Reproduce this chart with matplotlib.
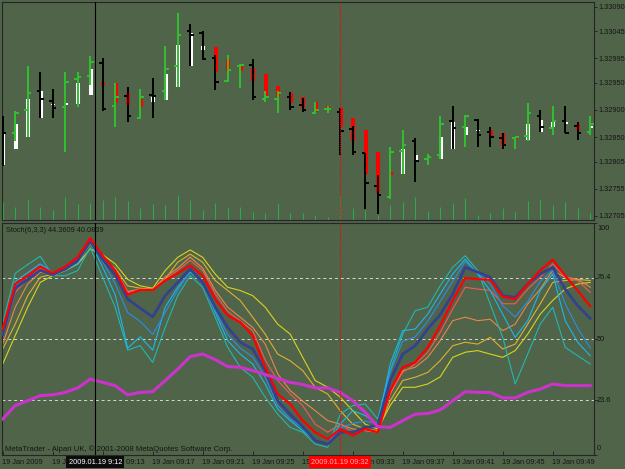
import matplotlib
matplotlib.use("Agg")
import matplotlib.pyplot as plt
import numpy as np

plt.rcParams["font.family"] = ["Liberation Sans", "DejaVu Sans"]

BG = "#506449"
FS = 5.3

# price bars (19 Jan 2009, 09:05 .. 09:52, one minute each)
opens = [1.32882, 1.32858, 1.32900, 1.32934, 1.32916, 1.32905, 1.32957, 1.32963,
         1.32987, 1.32907, 1.32926, 1.32885, 1.32928, 1.32935, 1.32980, 1.33046,
         1.33041, 1.32995, 1.32953, 1.32980, 1.32983, 1.32921, 1.32921, 1.32924,
         1.32909, 1.32894, 1.32901, 1.32897, 1.32865, 1.32821, 1.32760, 1.32739,
         1.32825, 1.32842, 1.32809, 1.32817, 1.32880, 1.32868, 1.32882, 1.32860,
         1.32849, 1.32848, 1.32852, 1.32888, 1.32866, 1.32880, 1.32871, 1.32860]
highs = [1.32888, 1.32898, 1.32980, 1.32969, 1.32939, 1.32969, 1.32969, 1.32999,
         1.32995, 1.32949, 1.32942, 1.32938, 1.32958, 1.33018, 1.33078, 1.33058,
         1.33046, 1.33001, 1.33001, 1.32985, 1.32993, 1.32934, 1.32934, 1.32933,
         1.32922, 1.32915, 1.32907, 1.32903, 1.32870, 1.32821, 1.32780, 1.32832,
         1.32864, 1.32848, 1.32819, 1.32888, 1.32907, 1.32891, 1.32883, 1.32868,
         1.32857, 1.32850, 1.32912, 1.32900, 1.32907, 1.32907, 1.32878, 1.32888]
lows = [1.32797, 1.32842, 1.32851, 1.32885, 1.32885, 1.32822, 1.32906, 1.32946,
        1.32898, 1.32869, 1.32878, 1.32883, 1.32885, 1.32918, 1.32943, 1.32980,
        1.32992, 1.32937, 1.32952, 1.32940, 1.32918, 1.32915, 1.32895, 1.32900,
        1.32896, 1.32893, 1.32894, 1.32817, 1.32817, 1.32717, 1.32708, 1.32737,
        1.32783, 1.32768, 1.32799, 1.32809, 1.32829, 1.32832, 1.32832, 1.32832,
        1.32828, 1.32828, 1.32842, 1.32860, 1.32854, 1.32857, 1.32845, 1.32854]
closes = [1.32857, 1.32894, 1.32931, 1.32920, 1.32904, 1.32952, 1.32960, 1.32989,
          1.32901, 1.32923, 1.32889, 1.32923, 1.32926, 1.32975, 1.33038, 1.33038,
          1.32993, 1.32952, 1.32974, 1.32982, 1.32923, 1.32924, 1.32931, 1.32905,
          1.32899, 1.32900, 1.32902, 1.32861, 1.32823, 1.32766, 1.32744, 1.32823,
          1.32835, 1.32806, 1.32814, 1.32874, 1.32866, 1.32888, 1.32854, 1.32851,
          1.32835, 1.32850, 1.32894, 1.32868, 1.32880, 1.32858, 1.32858, 1.32875]

# overlay candle bodies
body_hi = [1.32857, 1.32874, 1.32921, 1.32935, 1.32911, 1.32912, 1.32949, 1.32975,
           1.32952, 1.32949, 1.32931, 1.32920, 1.32924, 1.32966, 1.33020, 1.33041,
           1.33018, 1.33015, 1.32993, 1.32983, 1.32978, 1.32966, 1.32944, 1.32932,
           1.32923, 1.32915, 1.32908, 1.32903, 1.32886, 1.32864, 1.32823, 1.32785,
           1.32829, 1.32817, 1.32812, 1.32850, 1.32878, 1.32869, 1.32863, 1.32863,
           1.32857, 1.32850, 1.32875, 1.32882, 1.32877, 1.32877, 1.32875, 1.32871]
body_lo = [1.32799, 1.32828, 1.32850, 1.32885, 1.32909, 1.32909, 1.32911, 1.32928,
           1.32946, 1.32912, 1.32909, 1.32906, 1.32914, 1.32918, 1.32942, 1.32980,
           1.33010, 1.32970, 1.32972, 1.32972, 1.32953, 1.32923, 1.32923, 1.32912,
           1.32903, 1.32897, 1.32900, 1.32869, 1.32843, 1.32782, 1.32748, 1.32780,
           1.32782, 1.32805, 1.32812, 1.32809, 1.32829, 1.32853, 1.32861, 1.32851,
           1.32834, 1.32846, 1.32845, 1.32859, 1.32869, 1.32874, 1.32863, 1.32867]
body_white = [1, 1, 1, 1, 1, 1, 1, 1, 0, 0, 0, 0, 1, 1, 1, 1,
              1, 0, 0, 0, 0, 0, 0, 0, 0, 0, 0, 0, 0, 0, 0, 0,
              1, 1, 1, 1, 1, 1, 1, 0, 0, 0, 1, 1, 1, 1, 0, 1]

volumes = [55, 40, 62, 40, 30, 70, 48, 50, 60, 70, 57, 35, 48, 45, 75, 60,
           30, 50, 40, 40, 25, 20, 50, 20, 20, 15, 10, 75, 35, 30, 15, 45,
           55, 68, 28, 40, 52, 65, 15, 20, 35, 25, 57, 62, 45, 55, 35, 20]

price_ticks = [1.33090, 1.33045, 1.32995, 1.32950, 1.32900, 1.32850, 1.32805, 1.32755, 1.32705]

# stochastic rainbow lines
stoch_red = [54.3, 73.7, 77.3, 81.2, 78.4, 81.2, 85.2, 93.5, 85.9, 79.5, 69.1, 71.2,
             71.1, 75.2, 78.3, 81.6, 77.3, 67.2, 60.1, 57.2, 51.5, 37.8, 26.3, 22.0,
             14.8, 9.8, 6.9, 11.2, 8.4, 11.2, 9.8, 27.8, 37.8, 39.9, 46.4, 55.7,
             66.6, 76.3, 75.8, 75.5, 68.2, 67.2, 73.7, 79.5, 84.2, 77.3, 70.9, 64.1]
stoch_navy = [51.9, 72.0, 75.7, 79.6, 77.7, 80.1, 83.9, 92.0, 84.3, 77.7, 67.2, 63.3,
              59.5, 68.7, 74.4, 80.1, 74.4, 63.7, 55.0, 48.6, 45.7, 36.4, 23.4, 17.6,
              12.2, 6.2, 4.7, 9.8, 9.8, 11.9, 12.7, 32.1, 43.5, 47.1, 54.3, 60.5,
              69.4, 80.9, 78.8, 76.6, 68.7, 68.0, 73.7, 78.0, 80.9, 71.5, 64.4, 58.9]
stoch_magenta = [15.5, 21.3, 23.4, 25.6, 25.9, 27.0, 28.9, 32.7, 31.3, 29.9, 25.9, 27.0,
                 27.3, 32.1, 37.0, 42.4, 43.5, 41.1, 38.1, 37.8, 36.4, 34.7, 33.0, 31.3,
                 30.4, 28.9, 28.9, 27.0, 23.4, 18.4, 12.2, 11.9, 14.8, 17.6, 17.9, 19.4,
                 23.4, 27.3, 27.0, 27.0, 24.6, 24.6, 27.0, 28.4, 30.6, 29.9, 29.9, 29.9]
stoch_y1 = [39.2, 51.5, 63.7, 74.4, 77.3, 79.5, 82.3, 88.8, 86.3, 82.4, 75.7, 72.9,
            71.9, 79.5, 85.2, 88.4, 85.2, 78.0, 72.3, 70.9, 68.7, 63.7, 56.4, 52.1,
            42.1, 32.1, 29.2, 24.9, 19.1, 13.3, 11.2, 21.3, 29.2, 29.2, 30.6, 33.7,
            42.1, 44.3, 45.0, 43.5, 42.1, 45.0, 52.1, 60.7, 66.6, 71.5, 73.7, 74.4]
stoch_y2 = [45.7, 56.4, 68.7, 76.6, 78.0, 80.1, 83.8, 91.0, 84.3, 80.5, 72.9, 71.9,
            71.4, 75.8, 83.1, 86.6, 83.1, 75.2, 70.9, 66.6, 59.4, 52.1, 43.5, 40.6,
            36.4, 29.2, 26.3, 19.1, 13.3, 11.2, 10.5, 23.4, 32.1, 33.5, 35.6, 40.7,
            47.1, 48.6, 47.8, 50.7, 45.7, 47.8, 56.4, 65.1, 74.4, 75.2, 75.7, 75.2]
stoch_o2 = [47.8, 63.7, 73.7, 78.8, 78.0, 80.5, 84.2, 92.0, 85.3, 79.6, 70.5, 71.4,
            71.4, 76.7, 80.5, 85.3, 80.5, 71.0, 63.7, 59.4, 55.0, 47.8, 35.0, 27.8,
            23.2, 19.1, 14.8, 13.3, 11.2, 10.5, 9.8, 26.3, 36.4, 37.8, 42.1, 49.3,
            57.9, 59.4, 57.9, 58.5, 53.6, 56.4, 65.1, 71.5, 79.5, 76.6, 75.8, 72.3]
stoch_o1 = [50.7, 70.1, 75.8, 80.5, 78.4, 80.9, 84.8, 93.0, 85.6, 79.6, 70.0, 71.3,
            71.0, 75.7, 79.6, 83.9, 79.5, 69.5, 61.9, 57.8, 53.6, 41.0, 32.1, 26.3,
            21.3, 13.3, 9.8, 13.3, 9.8, 11.2, 9.8, 27.0, 35.6, 39.2, 44.2, 52.8,
            62.9, 72.3, 71.5, 71.0, 65.2, 65.2, 71.5, 76.6, 82.4, 76.6, 75.2, 70.1]
stoch_c1 = [56.6, 78.3, 82.1, 85.7, 77.3, 77.3, 79.5, 89.5, 76.6, 63.7, 45.2, 47.1,
            39.9, 55.0, 68.7, 77.3, 72.3, 59.4, 46.4, 37.8, 33.5, 24.9, 17.6, 11.9,
            9.8, 4.7, 3.3, 17.6, 21.3, 22.0, 15.5, 36.4, 52.1, 62.2, 63.7, 73.0,
            80.9, 85.9, 79.5, 65.1, 50.7, 30.6, 43.5, 56.4, 63.7, 46.4, 42.8, 39.2]
stoch_c2 = [54.7, 74.8, 78.6, 82.4, 78.6, 79.6, 82.4, 91.7, 80.9, 69.1, 46.1, 50.9,
            45.2, 63.7, 72.3, 78.8, 74.4, 61.5, 49.3, 43.5, 39.2, 30.6, 19.8, 14.8,
            10.5, 6.2, 4.7, 13.3, 19.1, 17.0, 13.3, 39.2, 53.6, 54.3, 60.7, 69.4,
            78.0, 84.4, 78.0, 70.9, 60.7, 50.7, 57.9, 70.9, 78.0, 57.9, 48.6, 42.8]
stoch_c3 = [53.8, 72.9, 77.7, 81.5, 78.6, 80.5, 84.3, 92.5, 83.4, 73.8, 61.4, 57.6,
            51.9, 61.4, 71.0, 79.6, 73.8, 62.4, 51.9, 46.1, 42.3, 33.7, 21.3, 15.5,
            11.7, 6.0, 5.0, 11.7, 13.6, 14.6, 13.6, 35.6, 49.0, 50.9, 57.6, 66.2,
            74.8, 83.4, 78.6, 73.8, 64.3, 59.5, 66.2, 74.8, 79.6, 65.2, 54.7, 46.1]

levels = [76.4, 50, 23.6]
level_labels = ["100", "76.4", "50", "23.6", "0"]
level_values = [100, 76.4, 50, 23.6, 0]

time_labels = ["19 Jan 2009", "19 Jan 09:09", "19 Jan 09:13", "19 Jan 09:17",
               "19 Jan 09:21", "19 Jan 09:25", "19 Jan 09:29", "19 Jan 09:33",
               "19 Jan 09:37", "19 Jan 09:41", "19 Jan 09:45", "19 Jan 09:49"]
time_ticks = [0, 4, 8, 12, 16, 20, 24, 28, 32, 36, 40, 44]

x = np.arange(len(opens))
XLIM = (-0.056, 47.304)

fig = plt.figure(figsize=(6.25, 4.69), dpi=100, facecolor=BG)
ax = fig.add_axes([2 / 625, 1 - 220 / 469, 592 / 625, 218 / 469], facecolor=BG)
ax2 = fig.add_axes([2 / 625, 1 - 455 / 469, 592 / 625, 232 / 469], facecolor=BG)

for a in (ax, ax2):
    a.set_xlim(*XLIM)
    for s in a.spines.values():
        s.set_color("#262626")
        s.set_linewidth(0.8)

# volumes on their own scale at the bottom of the price window
axv = ax.twinx()
axv.set_ylim(0, 654)
axv.vlines(x, 0, volumes, color="#2fa84f", lw=0.8)
axv.set_yticks([])
axv.set_zorder(0)
ax.set_zorder(1)
ax.patch.set_visible(False)
axv.patch.set_facecolor(BG)
for s in axv.spines.values():
    s.set_visible(False)

# candle bodies
bw = np.array(body_white, dtype=bool)
bhi = np.array(body_hi)
blo = np.array(body_lo)
has = bhi > blo
ax.vlines(x[bw & has] + 0.04, blo[bw & has], bhi[bw & has], color="white", lw=2.9, zorder=2)
ax.vlines(x[~bw & has] + 0.04, blo[~bw & has], bhi[~bw & has], color="#ff0000", lw=2.9, zorder=2)

# OHLC bars
o = np.array(opens)
c = np.array(closes)
up = c > o
for mask, col in ((up, "#30c030"), (~up, "black")):
    ax.vlines(x[mask], np.array(lows)[mask], np.array(highs)[mask], color=col, lw=1.4, zorder=3)
    ax.hlines(o[mask], x[mask] - 0.27, x[mask], color=col, lw=1.4, zorder=3)
    ax.hlines(c[mask], x[mask], x[mask] + 0.27, color=col, lw=1.4, zorder=3)

ax.set_ylim(1.326975, 1.330986)
ax.yaxis.tick_right()
ax.set_yticks(price_ticks)
ax.set_yticklabels([f"{p:.5f}" for p in price_ticks])
ax.tick_params(axis="y", direction="out", length=2, width=0.7, color="#262626",
               labelsize=FS, labelcolor="#151515", pad=1)
ax.set_xticks([])

# stochastic window
thin = [(stoch_y1, "#d8d41e"), (stoch_y2, "#e0b030"), (stoch_o2, "#e8884a"),
        (stoch_o1, "#f55a50"), (stoch_c1, "#22b8b0"), (stoch_c2, "#19b8f0"),
        (stoch_c3, "#2a8ee8")]
for vals, col in thin:
    ax2.plot(x, vals, color=col, lw=0.8, zorder=2)
ax2.plot(x, stoch_navy, color="#33428e", lw=2.0, zorder=3)
ax2.plot(x, stoch_red, color="#ff0000", lw=1.6, zorder=4)
ax2.plot(x, stoch_magenta, color="#cc33cc", lw=2.2, zorder=4)
for lv in levels:
    ax2.axhline(lv, color="#d8d8d8", lw=0.7, ls=(0, (3, 3)), zorder=1)

ax2.set_ylim(0, 100)
ax2.yaxis.tick_right()
ax2.set_yticks(level_values)
ax2.set_yticklabels([])
ax2.tick_params(axis="y", direction="out", length=2, width=0.7, color="#262626")
for lbl, v in zip(level_labels, level_values):
    va = "top" if v == 100 else ("bottom" if v == 0 else "center")
    off = -2 if v == 100 else (3 if v == 0 else 0)
    ax2.annotate(lbl, (1, v), xycoords=("axes fraction", "data"), xytext=(3, off),
                 textcoords="offset pixels", ha="left", va=va, fontsize=FS, color="#151515")

ax2.set_xticks(time_ticks)
ax2.set_xticklabels([])
ax2.tick_params(axis="x", direction="in", length=3, width=0.7, color="#262626")
for t, lbl in zip(time_ticks, time_labels):
    ax2.annotate(lbl, (t, 0), xycoords=("data", "axes fraction"), xytext=(-1, -7),
                 textcoords="offset pixels", ha="left", va="center", fontsize=FS, color="#151515")

# cursor lines
for a in (ax, ax2):
    a.axvline(7.4, color="black", lw=0.8, zorder=6)
    a.axvline(27, color="#ff0000", lw=0.8, ls=(0, (1, 1)), zorder=6)

ax2.annotate("2009.01.19 9:12", (7.4, 0), xycoords=("data", "axes fraction"), xytext=(0, -7),
             textcoords="offset pixels", ha="center", va="center", fontsize=FS, color="white",
             bbox=dict(boxstyle="square,pad=0.3", fc="#0c0c0c", ec="none"),
             annotation_clip=False, zorder=10)
ax2.annotate("2009.01.19 09:32", (27, 0), xycoords=("data", "axes fraction"), xytext=(0, -7),
             textcoords="offset pixels", ha="center", va="center", fontsize=FS, color="#ffb0b0",
             bbox=dict(boxstyle="square,pad=0.3", fc="#ff0000", ec="none"),
             annotation_clip=False, zorder=10)

ax2.annotate("Stoch(6,3,3) 44.3609 40.0839", (0, 1), xycoords="axes fraction", xytext=(4, -7),
             textcoords="offset pixels", ha="left", va="center", fontsize=FS, color="#151515")
ax2.annotate("MetaTrader - Alpari UK, \u00a9 2001-2008 MetaQuotes Software Corp.", (0, 0),
             xycoords="axes fraction", xytext=(3, 6), textcoords="offset pixels",
             ha="left", va="center", fontsize=5.6, color="#151515")

fig.savefig("out.png", dpi=100, facecolor=BG)
